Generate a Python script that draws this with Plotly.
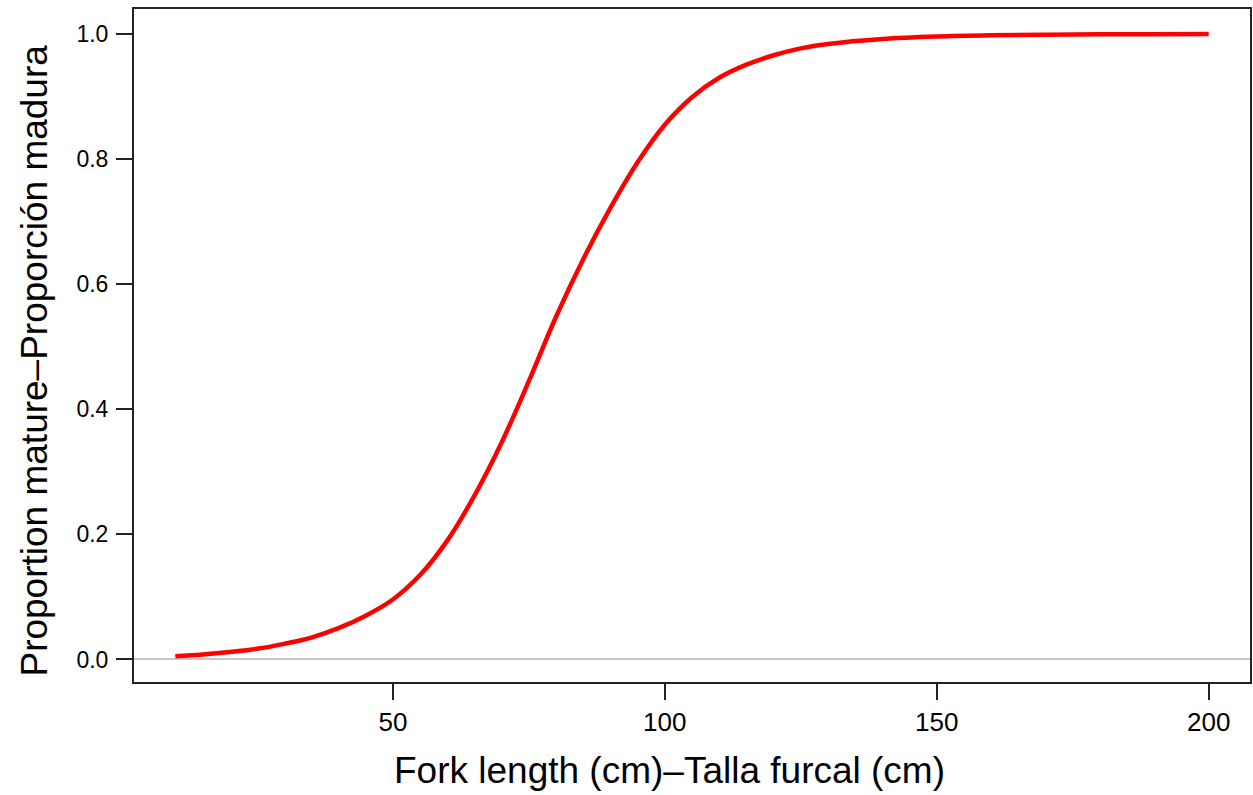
import plotly.graph_objects as go

# Fork length (cm) and proportion mature
fork_length = [10, 15, 20, 25, 30, 35, 40, 45, 50, 55, 60, 65, 70, 75, 80, 85, 90,
               95, 100, 105, 110, 115, 120, 125, 130, 140, 150, 160, 170, 180, 190, 200]
prop_mature = [0.005, 0.008, 0.012, 0.017, 0.025, 0.035, 0.050, 0.070, 0.096, 0.135,
               0.190, 0.262, 0.347, 0.445, 0.548, 0.640, 0.722, 0.795, 0.855, 0.899,
               0.930, 0.951, 0.966, 0.977, 0.984, 0.992, 0.996, 0.998, 0.999, 0.9995,
               0.9998, 0.9999]

x_ticks = [50, 100, 150, 200]
y_ticks = [0.0, 0.2, 0.4, 0.6, 0.8, 1.0]
x_title = "Fork length (cm)\u2013Talla furcal (cm)"
y_title = "Proportion mature\u2013Proporción madura"

FONT = "Liberation Sans, Arial, sans-serif"

fig = go.Figure()
fig.add_trace(go.Scatter(
    x=fork_length, y=prop_mature, mode="lines",
    line=dict(color="#ff0000", width=4.5, shape="spline", smoothing=1.0),
    hoverinfo="x+y", showlegend=False,
))

fig.update_layout(
    width=1253, height=795,
    margin=dict(l=134, r=1, t=9, b=113),
    paper_bgcolor="white", plot_bgcolor="white",
    font=dict(family=FONT, color="black"),
    xaxis=dict(
        range=[2.4, 207.6], tickvals=x_ticks, ticks="outside", ticklen=16,
        tickwidth=1.5, tickcolor="#222", showgrid=False, zeroline=False,
        showline=True, linecolor="#222", linewidth=2, mirror=True,
        tickfont=dict(size=26, family=FONT), ticklabelstandoff=0,
    ),
    yaxis=dict(
        range=[-0.036, 1.04], tickvals=y_ticks, tickformat=".1f", ticks="outside",
        ticklen=16, tickwidth=1.5, tickcolor="#222", showgrid=False,
        zeroline=True, zerolinecolor="#c8c8c8", zerolinewidth=1.5,
        showline=True, linecolor="#222", linewidth=2, mirror=True,
        tickfont=dict(size=23, family=FONT), ticklabelstandoff=3,
    ),
    annotations=[
        dict(text=x_title, xref="paper", yref="paper", x=0.480, y=-0.131,
             xanchor="center", yanchor="middle", showarrow=False,
             font=dict(size=37, family=FONT, color="black")),
        dict(text=y_title, xref="paper", yref="paper", x=-0.0894, y=0.478,
             xanchor="center", yanchor="middle", textangle=-90, showarrow=False,
             font=dict(size=37, family=FONT, color="black")),
    ],
)

fig.write_html("out.html")
